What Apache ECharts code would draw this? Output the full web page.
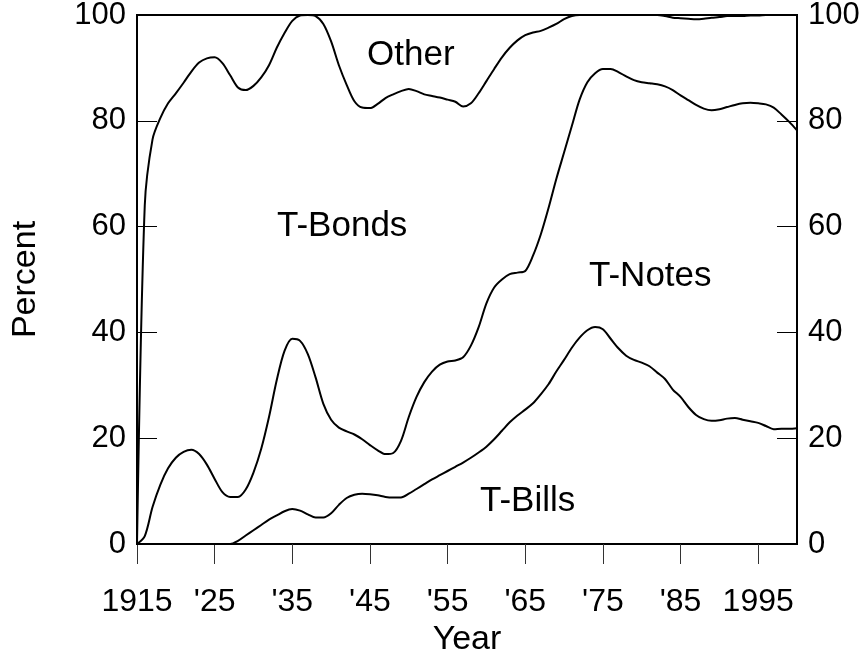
<!DOCTYPE html>
<html>
<head>
<meta charset="utf-8">
<script src="https://cdn.jsdelivr.net/npm/echarts@6/dist/echarts.min.js"></script>
<style>html,body{margin:0;padding:0;background:#fff;}#c{width:865px;height:655px;}</style>
</head>
<body>
<div id="c"></div>
<script>
var years = [];
for (var y = 1915; y <= 2000; y++) years.push(String(y));

// Cumulative shares (percent), 1915..2000
var billsLine = [0,0,0,0,0,0,0,0,0,0,0,0,0,0.6,1.6,2.6,3.6,4.6,5.4,6.2,
  6.6,6.3,5.6,5.0,5.0,5.8,7.4,8.7,9.3,9.5,9.4,9.2,8.9,8.8,8.8,9.5,
  10.4,11.3,12.2,13.0,13.8,14.6,15.4,16.3,17.3,18.4,19.8,21.4,23.0,24.3,25.4,
  26.6,28.3,30.2,32.6,34.8,37.1,39.0,40.4,41.0,40.6,38.8,37.0,35.6,34.8,34.3,
  33.6,32.4,31.2,29.2,27.8,25.9,24.4,23.6,23.3,23.4,23.7,23.8,23.5,23.2,22.9,
  22.3,21.7,21.8,21.8,21.9];
var notesLine = [0,1.5,7.0,11.2,14.3,16.3,17.4,17.8,17.0,15.0,12.3,9.8,8.9,8.9,10.3,
  13.5,18.0,24.0,31.0,36.5,38.8,38.4,35.9,31.5,26.5,23.5,22.0,21.3,20.7,19.8,
  18.7,17.7,17.0,17.2,19.5,24.0,27.8,30.6,32.6,33.9,34.5,34.7,35.3,37.5,41.0,
  45.5,48.5,50.0,51.0,51.3,51.6,54.5,58.5,63.5,69.0,74.0,79.0,84.0,87.3,89.0,
  89.8,89.8,89.2,88.4,87.7,87.3,87.1,86.9,86.5,85.8,84.8,83.9,83.0,82.3,82.0,
  82.2,82.6,83.0,83.3,83.4,83.3,83.1,82.5,81.2,79.8,78.2];
var bondsLine = [0,64,76.5,80.5,83.3,85.2,87.2,89.3,91.0,91.8,92.0,90.9,88.6,86.3,85.8,
  86.6,88.2,90.5,93.8,96.6,98.9,99.9,100,99.8,98.3,95.0,90.5,86.8,83.7,82.5,
  82.4,83.2,84.3,85.0,85.6,86.0,85.6,85.0,84.7,84.4,84.0,83.6,82.7,83.3,85.2,
  87.5,89.8,92.0,93.8,95.2,96.2,96.7,97.0,97.6,98.3,99.2,99.8,100,100,100,
  100,100,100,100,100,100,100,100,99.8,99.5,99.4,99.3,99.2,99.3,99.5,
  99.6,99.8,99.8,99.8,99.9,99.9,100,100,100,100,100];

var tickYears = ['1915','1925','1935','1945','1955','1965','1975','1985','1995'];
var tickLabels = {'1915':'1915','1925':"'25",'1935':"'35",'1945':"'45",'1955':"'55",
  '1965':"'65",'1975':"'75",'1985':"'85",'1995':'1995'};
var areaLabels = ['Other','T-Bonds','T-Notes','T-Bills'];

var FONT = 'Liberation Sans, Arial, sans-serif';
var chart = echarts.init(document.getElementById('c'));
function isTick(i, v) { return tickYears.indexOf(v) >= 0; }
function mkSeries(d) {
  return { type: 'line', data: d, showSymbol: false, smooth: 0.3,
    lineStyle: { color: '#000', width: 2 }, silent: true, z: 3 };
}
function areaText(t, x, y) {
  return { type: 'text', x: x, y: y, style: { text: t, fontSize: 35, fontFamily: FONT,
    fill: '#000', textAlign: 'left', textVerticalAlign: 'middle' } };
}
var yAxisBase = {
  type: 'value', min: 0, max: 100, interval: 20,
  axisLine: { show: true, lineStyle: { color: '#000', width: 2 } },
  axisTick: { show: true, inside: true, length: 20, lineStyle: { color: '#000', width: 1 } },
  splitLine: { show: false },
  axisLabel: { color: '#000', fontSize: 31, fontFamily: FONT, margin: 11 }
};
chart.setOption({
  animation: false,
  grid: { left: 137, right: 68, top: 15, bottom: 111, show: true, containLabel: false,
    outerBoundsMode: 'none',
    borderColor: '#000', borderWidth: 2, backgroundColor: 'transparent' },
  xAxis: {
    type: 'category', data: years, boundaryGap: false,
    name: 'Year', nameLocation: 'middle', nameGap: 76,
    nameTextStyle: { color: '#000', fontSize: 34, fontFamily: FONT },
    axisLine: { show: true, onZero: false, lineStyle: { color: '#000', width: 2 } },
    axisTick: { show: true, interval: isTick, length: 20, lineStyle: { color: '#333', width: 1 } },
    axisLabel: { interval: isTick, color: '#000', fontSize: 32, fontFamily: FONT, margin: 42,
      formatter: function (v) { return tickLabels[v] || ''; } },
    splitLine: { show: false }
  },
  yAxis: [
    Object.assign({}, yAxisBase, { position: 'left', name: 'Percent', nameLocation: 'middle',
      nameGap: 94, nameRotate: 90,
      nameTextStyle: { color: '#000', fontSize: 34, fontFamily: FONT } }),
    Object.assign({}, yAxisBase, { position: 'right' })
  ],
  series: [mkSeries(billsLine), mkSeries(notesLine), mkSeries(bondsLine)],
  graphic: [
    areaText(areaLabels[0], 367, 55),
    areaText(areaLabels[1], 277, 226),
    areaText(areaLabels[2], 589, 276),
    areaText(areaLabels[3], 480, 501)
  ]
});
</script>
</body>
</html>
